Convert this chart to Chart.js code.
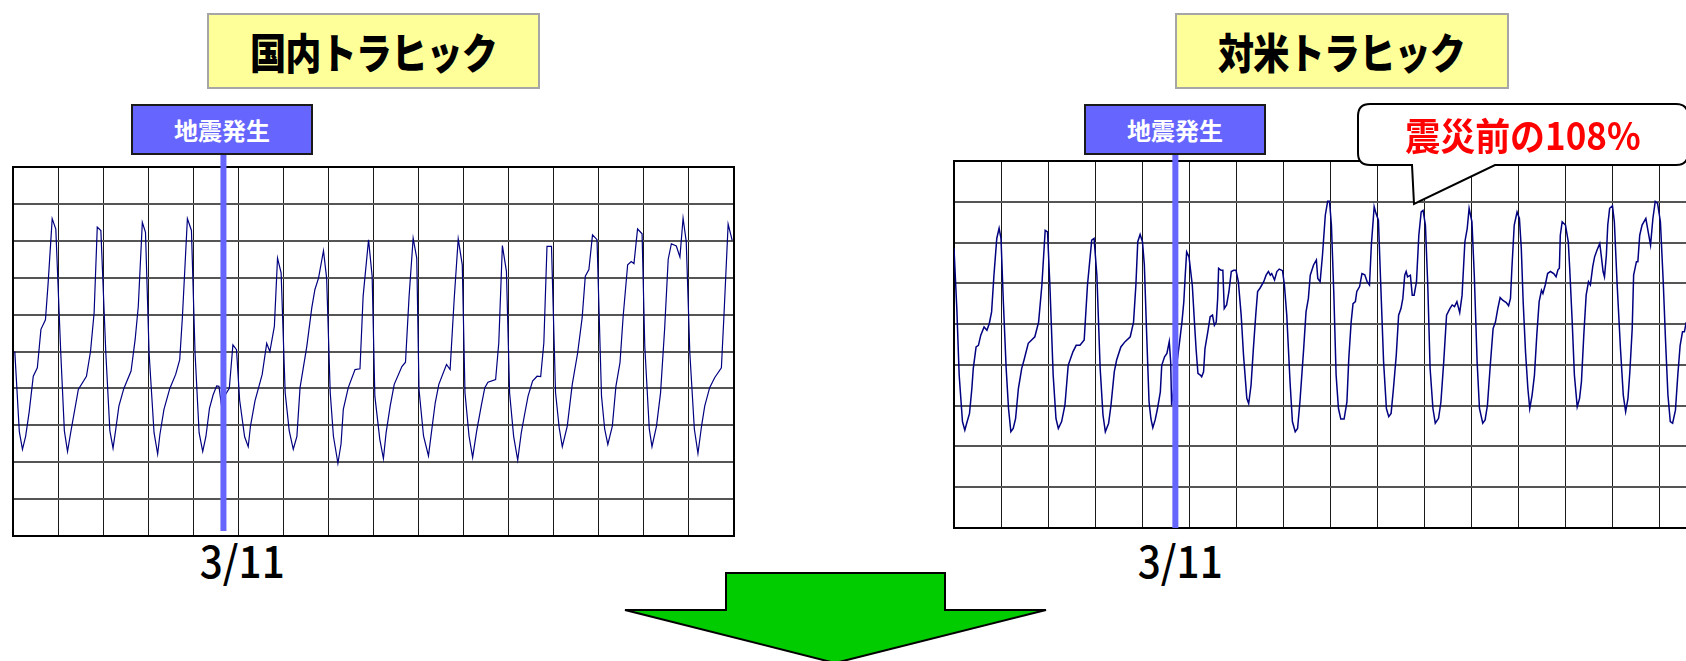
<!DOCTYPE html>
<html>
<head>
<meta charset="utf-8">
<script src="https://cdn.jsdelivr.net/npm/chart.js@4/dist/chart.umd.min.js"></script>
<style>
  html, body { margin: 0; padding: 0; background: #fff; overflow: hidden; }
  body { width: 1686px; height: 661px; position: relative; font-family: "Noto Sans CJK JP", sans-serif; }
  .abs { position: absolute; }
  .title {
    box-sizing: border-box; background: #ffff99; border: 2px solid #a6a6a6;
    font-weight: 900; font-size: 42px; color: #000; text-align: center;
    line-height: 72px; letter-spacing: -1px;
  }
  .title span { display: inline-block; transform: scaleX(0.86); }
  .quake {
    box-sizing: border-box; background: #6666ff; border: 2px solid #1a1a1a;
    color: #fff; font-weight: bold; font-size: 24px; text-align: center; line-height: 47px;
    z-index: 3;
  }
  .date { font-size: 44px; line-height: 44px; width: 120px; text-align: center; color: #000; font-weight: 500; }
  .date span { display: inline-block; transform: scaleX(0.92); }
  .callout { color: #ff0000; font-weight: bold; font-size: 38px; line-height: 60px; z-index: 5; }
  .callout span { display: inline-block; transform: scaleX(0.92); }
</style>
</head>
<body>

<div class="abs title" style="left:207px; top:13px; width:333px; height:76px;"><span>国内トラヒック</span></div>
<div class="abs title" style="left:1175px; top:13px; width:334px; height:76px;"><span>対米トラヒック</span></div>

<div class="abs" style="left:0; top:150px; width:760px; height:400px; z-index:1;">
  <canvas id="domestic" width="760" height="400"></canvas>
</div>
<div class="abs" style="left:940px; top:140px; width:790px; height:410px; z-index:1;">
  <canvas id="overseas" width="790" height="410"></canvas>
</div>

<div class="abs quake" style="left:131px; top:104px; width:182px; height:51px;">地震発生</div>
<div class="abs quake" style="left:1084px; top:104px; width:182px; height:51px;">地震発生</div>

<div class="abs date" style="left:182px; top:537px;"><span>3/11</span></div>
<div class="abs date" style="left:1120px; top:537px;"><span>3/11</span></div>

<svg class="abs" style="left:0; top:0; z-index:4;" width="1686" height="661">
  <path d="M1370,104 H1676 Q1688,104 1688,116 V153 Q1688,165 1676,165 H1495 L1414,204 L1412,165 H1370 Q1358,165 1358,153 V116 Q1358,104 1370,104 Z"
        fill="#fff" stroke="#000" stroke-width="2"/>
  <polygon points="726,573 945,573 945,610 1046,610 835,663 625,610 726,610"
           fill="#00cc00" stroke="#000" stroke-width="2"/>
</svg>
<div class="abs callout" style="left:1358px; top:104px; width:330px; text-align:center;"><span>震災前の108%</span></div>

<script>
// 国内トラヒック: position in days (one grid column = one day) and relative load
const domesticDay = [
  0.04, 0.14, 0.21, 0.28, 0.36, 0.45, 0.54, 0.62, 0.72, 0.78, 0.87, 0.95, 1.06, 1.14,
  1.21, 1.28, 1.45, 1.63, 1.72, 1.80, 1.87, 1.95, 2.06, 2.15,
  2.22, 2.27, 2.35, 2.46, 2.62, 2.71, 2.78, 2.87, 2.94, 3.02, 3.13,
  3.21, 3.26, 3.35, 3.48, 3.61, 3.70, 3.76, 3.87, 3.96, 4.04, 4.13,
  4.21, 4.28, 4.36, 4.44, 4.52, 4.57, 4.64, 4.71, 4.80, 4.88, 4.96, 5.03, 5.14,
  5.22, 5.27, 5.37, 5.53, 5.63, 5.70, 5.80, 5.87, 5.95, 6.04, 6.13,
  6.22, 6.30, 6.37, 6.52, 6.63, 6.70, 6.78, 6.89, 6.96, 7.04, 7.11,
  7.21, 7.28, 7.33, 7.44, 7.59, 7.70, 7.77, 7.89, 7.97, 8.03, 8.14,
  8.22, 8.28, 8.37, 8.46, 8.63, 8.71, 8.79, 8.88, 8.96, 9.01, 9.11,
  9.22, 9.29, 9.37, 9.45, 9.62, 9.70, 9.79, 9.88, 9.97, 10.03, 10.12,
  10.20, 10.29, 10.39, 10.47, 10.54, 10.71, 10.78, 10.86, 10.95, 11.02, 11.11,
  11.20, 11.28, 11.36, 11.43, 11.53, 11.63, 11.71, 11.78, 11.85, 11.95, 12.04, 12.12,
  12.19, 12.30, 12.41, 12.53, 12.63, 12.70, 12.78, 12.86, 12.96, 13.06, 13.13,
  13.20, 13.30, 13.38, 13.47, 13.54, 13.64, 13.72, 13.78, 13.86, 13.96, 14.02, 14.12,
  14.18, 14.28, 14.37, 14.46, 14.54, 14.61, 14.72, 14.80, 14.87, 14.94, 15.02, 15.12,
  15.20, 15.28, 15.35, 15.46, 15.57, 15.72, 15.78, 15.87, 15.96
];
const domesticLoad = [
  5.00, 2.83, 2.35, 2.70, 3.37, 4.33, 4.56, 5.60, 5.86, 6.86, 8.60, 8.32, 4.96, 2.85,
  2.29, 2.80, 3.97, 4.33, 5.00, 6.05, 8.37, 8.28, 4.96, 2.85,
  2.38, 2.80, 3.52, 4.00, 4.47, 5.32, 6.22, 8.50, 8.23, 4.96, 2.80,
  2.22, 2.75, 3.43, 4.00, 4.38, 4.78, 5.95, 8.60, 8.28, 4.96, 2.80,
  2.29, 2.69, 3.46, 3.82, 4.07, 4.06, 3.41, 3.82, 4.00, 5.18, 5.05, 3.68, 2.69,
  2.42, 2.98, 3.66, 4.38, 5.22, 5.00, 5.68, 7.53, 7.13, 3.88, 2.85,
  2.35, 2.70, 4.02, 5.14, 6.18, 6.68, 6.99, 7.73, 6.99, 3.88, 2.71,
  1.97, 2.50, 3.43, 4.02, 4.51, 4.53, 6.50, 8.03, 7.04, 3.79, 2.62,
  2.10, 2.80, 3.52, 4.11, 4.59, 4.71, 6.50, 8.07, 7.53, 3.97, 2.71,
  2.17, 2.85, 3.61, 4.11, 4.65, 4.51, 6.41, 8.05, 7.35, 3.88, 2.71,
  2.13, 2.85, 3.52, 4.02, 4.17, 4.24, 5.23, 7.87, 7.17, 3.88, 2.70,
  2.06, 2.80, 3.34, 3.79, 4.20, 4.33, 4.32, 5.23, 7.85, 7.85, 3.88, 2.94,
  2.42, 2.98, 4.10, 4.96, 5.91, 7.04, 7.22, 8.16, 8.03, 3.79, 2.90,
  2.48, 2.98, 4.06, 4.70, 5.95, 7.35, 7.44, 7.38, 8.32, 8.19, 5.14, 2.90,
  2.42, 2.98, 3.88, 5.60, 7.50, 7.92, 7.86, 7.56, 8.61, 7.98, 4.96, 2.90,
  2.24, 2.98, 3.52, 4.02, 4.29, 4.56, 6.05, 8.45, 8.01
];

// 対米トラヒック
const usDay = [
  0.00, 0.06, 0.11, 0.18, 0.23, 0.27, 0.33, 0.38, 0.41, 0.47, 0.52, 0.57, 0.64, 0.70, 0.75, 0.80, 0.85, 0.91, 0.96,
  1.00, 1.05, 1.11, 1.16, 1.21, 1.26, 1.31, 1.37, 1.44, 1.49, 1.58, 1.72, 1.80, 1.87, 1.94, 1.99,
  2.04, 2.11, 2.17, 2.22, 2.29, 2.36, 2.43, 2.53, 2.60, 2.68, 2.77, 2.84, 2.93, 2.98,
  3.04, 3.11, 3.17, 3.22, 3.29, 3.34, 3.41, 3.46, 3.55, 3.64, 3.75, 3.82, 3.87, 3.91, 3.96,
  4.01, 4.05, 4.10, 4.15, 4.19, 4.23, 4.28, 4.33, 4.39, 4.42, 4.48, 4.53, 4.58, 4.61, 4.63, 4.80, 4.85, 4.89, 4.92, 4.95,
  5.00, 5.07, 5.12, 5.15, 5.19, 5.24, 5.27, 5.31, 5.34, 5.40, 5.45, 5.50, 5.54, 5.58, 5.61, 5.63, 5.68, 5.72, 5.75, 5.80, 5.85, 5.90, 5.95,
  6.00, 6.05, 6.11, 6.16, 6.23, 6.27, 6.32, 6.37, 6.42, 6.46, 6.51, 6.59, 6.64, 6.69, 6.73, 6.76, 6.82, 6.87, 6.92, 6.99,
  7.03, 7.08, 7.15, 7.20, 7.26, 7.31, 7.36, 7.44, 7.49, 7.54, 7.58, 7.65, 7.71, 7.74, 7.79, 7.84, 7.90, 7.95, 7.99,
  8.03, 8.08, 8.13, 8.18, 8.23, 8.30, 8.36, 8.40, 8.45, 8.49, 8.54, 8.57, 8.63, 8.68, 8.74, 8.79, 8.84, 8.88, 8.94, 8.98,
  9.03, 9.08, 9.14, 9.20, 9.25, 9.30, 9.35, 9.41, 9.46, 9.51, 9.55, 9.59, 9.62, 9.65, 9.71, 9.75, 9.79, 9.84, 9.89, 9.94, 9.98,
  10.03, 10.08, 10.13, 10.19, 10.24, 10.31, 10.36, 10.42, 10.48, 10.55, 10.60, 10.65, 10.70, 10.76, 10.81, 10.87, 10.92, 10.96,
  11.02, 11.07, 11.13, 11.18, 11.25, 11.30, 11.35, 11.41, 11.47, 11.52, 11.57, 11.62, 11.68, 11.75, 11.80, 11.84, 11.87, 11.92, 11.98,
  12.03, 12.07, 12.11, 12.16, 12.21, 12.25, 12.30, 12.35, 12.40, 12.45, 12.50, 12.53, 12.58, 12.63, 12.69, 12.76, 12.81, 12.85, 12.88, 12.90, 12.94,
  13.01, 13.07, 13.10, 13.15, 13.20, 13.26, 13.31, 13.35, 13.40, 13.45, 13.50, 13.54, 13.59, 13.63, 13.68, 13.74, 13.77, 13.81, 13.84, 13.88, 13.91, 13.95,
  14.01, 14.05, 14.11, 14.18, 14.24, 14.29, 14.34, 14.38, 14.43, 14.46, 14.52, 14.55, 14.59, 14.64, 14.72, 14.77, 14.82, 14.87, 14.92, 14.97,
  15.03, 15.09, 15.14, 15.19, 15.24, 15.29, 15.35, 15.40, 15.45, 15.50, 15.54, 15.58
];
const usLoad = [
  6.86, 5.38, 3.75, 2.61, 2.40, 2.57, 2.81, 3.42, 3.91, 4.44, 4.48, 4.73, 4.93, 4.85, 5.01, 5.30, 6.20, 7.10, 7.35,
  7.10, 5.55, 3.91, 2.93, 2.36, 2.44, 2.68, 3.42, 3.91, 4.12, 4.53, 4.69, 5.05, 5.96, 7.30, 7.26,
  5.96, 3.75, 2.68, 2.44, 2.61, 3.01, 3.99, 4.32, 4.48, 4.48, 4.61, 5.96, 7.06, 7.10,
  6.20, 3.91, 2.77, 2.36, 2.57, 3.01, 3.83, 4.12, 4.44, 4.57, 4.69, 5.05, 5.96, 7.02, 7.20,
  7.02, 6.45, 4.73, 3.09, 2.68, 2.46, 2.65, 2.93, 3.34, 3.99, 4.20, 4.28, 4.57, 4.08, 3.01, 4.57, 5.05, 5.55, 6.20, 6.77,
  6.65, 5.96, 4.97, 4.40, 3.79, 3.75, 3.71, 3.83, 4.40, 4.81, 5.18, 5.22, 4.97, 5.05, 5.63, 6.37, 6.32, 6.32, 5.38, 5.47, 5.80, 6.29, 6.32,
  6.32, 6.04, 5.22, 4.24, 3.18, 3.05, 3.50, 4.40, 5.22, 5.80, 5.88, 6.04, 6.20, 6.29, 6.20, 6.24, 6.08, 6.29, 6.35, 6.31,
  5.96, 5.22, 3.58, 2.61, 2.36, 2.44, 3.09, 4.40, 5.30, 5.63, 6.20, 6.45, 6.57, 6.12, 6.04, 6.69, 7.67, 8.01, 8.01,
  7.43, 5.80, 3.75, 2.93, 2.67, 2.67, 3.09, 4.16, 5.05, 5.50, 5.55, 5.80, 5.92, 6.24, 6.21, 6.04, 5.96, 6.94, 7.88, 7.71,
  7.55, 5.96, 4.08, 2.93, 2.73, 2.81, 3.42, 4.24, 5.22, 5.38, 5.63, 6.20, 6.29, 6.16, 6.20, 5.71, 5.71, 6.04, 7.18, 7.75, 7.79,
  7.43, 5.96, 3.91, 2.93, 2.57, 2.69, 3.09, 4.08, 5.22, 5.38, 5.47, 5.43, 5.55, 5.28, 5.71, 7.02, 7.35, 7.84,
  7.51, 6.20, 4.08, 2.93, 2.57, 2.65, 3.01, 3.99, 4.89, 5.05, 5.38, 5.65, 5.58, 5.53, 5.45, 5.63, 6.37, 7.43, 7.75,
  7.59, 6.86, 5.55, 4.32, 3.42, 2.93, 3.26, 3.75, 4.73, 5.55, 5.83, 5.75, 5.96, 6.24, 6.29, 6.24, 6.16, 6.33, 6.37, 7.18, 7.51,
  7.43, 7.02, 6.37, 5.14, 3.75, 2.97, 3.18, 3.59, 4.73, 5.71, 6.04, 5.96, 6.41, 6.65, 6.81, 6.98, 6.69, 6.29, 6.16, 6.69, 7.43, 7.84,
  7.90, 7.51, 5.96, 4.40, 3.26, 2.85, 3.18, 3.83, 4.89, 6.20, 6.53, 6.53, 7.18, 7.43, 7.59, 7.26, 6.94, 7.59, 8.01, 7.96,
  7.51, 6.04, 4.57, 3.26, 2.61, 2.57, 2.89, 3.75, 4.48, 4.81, 4.81, 5.05
];

const dayCount = 16;
const domesticRows = 10;
const usRows = 9;
const domesticQuake = 4.67;
const usQuake = 4.71;

const toPoints = (xs, ys) => xs.map((x, i) => ({ x: x, y: ys[i] }));

// outer frame of the plot area
const framePlugin = {
  id: 'frame',
  beforeDatasetsDraw(chart) {
    const { ctx, chartArea: a } = chart;
    ctx.save();
    ctx.strokeStyle = '#000';
    ctx.lineWidth = 2;
    ctx.strokeRect(a.left, a.top, a.right - a.left, a.bottom - a.top);
    ctx.restore();
  }
};

// blue marker at the time of the earthquake
const quakePlugin = {
  id: 'quake',
  afterDatasetsDraw(chart, args, opts) {
    const { ctx, chartArea: a, scales } = chart;
    const x = scales.x.getPixelForValue(opts.day);
    ctx.save();
    ctx.strokeStyle = '#6666ff';
    ctx.lineWidth = 6;
    ctx.beginPath();
    ctx.moveTo(x, 0);
    ctx.lineTo(x, a.bottom - opts.gap);
    ctx.stroke();
    ctx.restore();
  }
};

function makeChart(id, xs, ys, rows, quakeDay, gap, padding, lineWidth) {
  return new Chart(id, {
    type: 'line',
    data: {
      datasets: [{
        data: toPoints(xs, ys),
        borderColor: '#000080',
        borderWidth: lineWidth,
        pointRadius: 0,
        tension: 0,
        fill: false
      }]
    },
    options: {
      responsive: false,
      animation: false,
      layout: { padding: padding },
      plugins: {
        legend: { display: false },
        tooltip: { enabled: false },
        quake: { day: quakeDay, gap: gap }
      },
      scales: {
        x: {
          type: 'linear', min: 0, max: dayCount,
          ticks: { display: false, stepSize: 1 },
          grid: { color: '#1a1a1a', lineWidth: 1, drawTicks: false },
          border: { display: false }
        },
        y: {
          min: 0, max: rows,
          ticks: { display: false, stepSize: 1 },
          grid: { color: '#555', lineWidth: 2, drawTicks: false },
          border: { display: false }
        }
      }
    },
    plugins: [framePlugin, quakePlugin]
  });
}

makeChart('domestic', domesticDay, domesticLoad, domesticRows, domesticQuake, 5,
  { left: 13, right: 26, top: 17, bottom: 14 }, 1.2);
makeChart('overseas', usDay, usLoad, usRows, usQuake, 0,
  { left: 14, right: 24, top: 21, bottom: 22 }, 1.5);
</script>
</body>
</html>
